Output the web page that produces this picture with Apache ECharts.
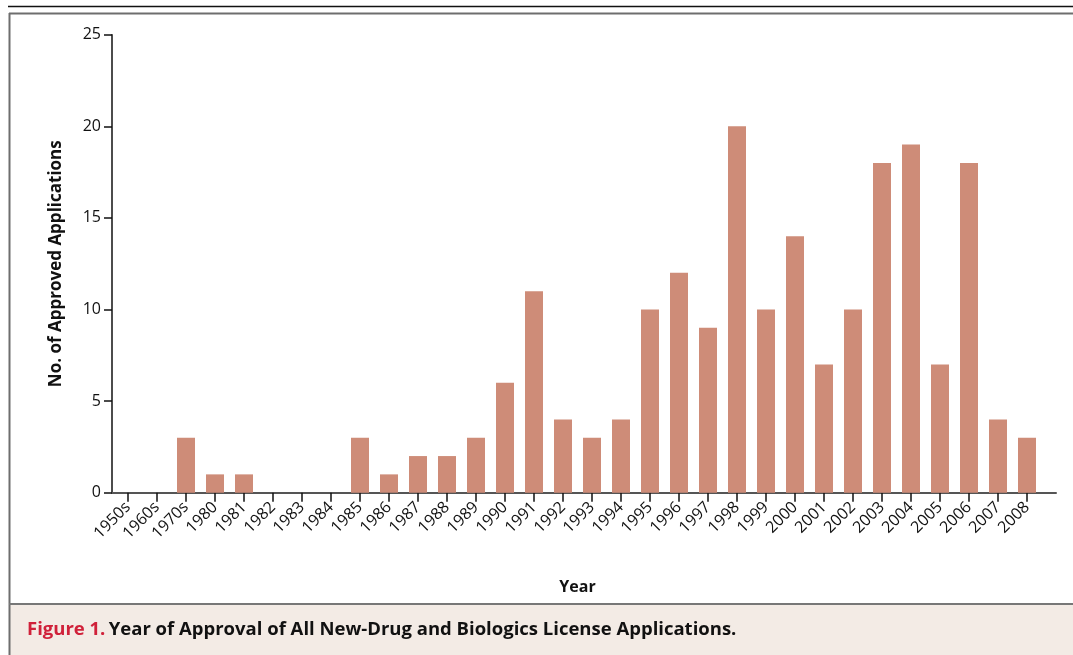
<!DOCTYPE html>
<html><head><meta charset="utf-8">
<script src="https://cdn.jsdelivr.net/npm/echarts@6/dist/echarts.min.js"></script>
<style>html,body{margin:0;padding:0;background:#fff}#c{width:1073px;height:655px}</style>
</head><body><div id="c"></div>
<script>
const categories = ['1950s','1960s','1970s','1980','1981','1982','1983','1984','1985','1986','1987','1988','1989','1990','1991','1992','1993','1994','1995','1996','1997','1998','1999','2000','2001','2002','2003','2004','2005','2006','2007','2008'];
const approvals = [0,0,3,1,1,0,0,0,3,1,2,2,3,6,11,4,3,4,10,12,9,20,10,14,7,10,18,19,7,18,4,3];
const yTicks = [0,5,10,15,20,25];

const FONT = '"Open Sans", "Noto Sans", sans-serif';
const chart = echarts.init(document.getElementById('c'), null, {renderer:'canvas'});
chart.setOption({
  animation:false,
  backgroundColor:'#fff',
  textStyle:{fontFamily:FONT, fontSize:16, color:'#111'},
  graphic:[
    {type:'rect', shape:{x:9, y:604, width:1064, height:51}, style:{fill:'#f3ebe5'}, z:-10},
    {type:'line', shape:{x1:8, y1:6.5, x2:1073, y2:6.5}, style:{stroke:'#111', lineWidth:1.5}},
    {type:'line', shape:{x1:9, y1:13.5, x2:1073, y2:13.5}, style:{stroke:'#6e6e6e', lineWidth:2}},
    {type:'line', shape:{x1:9.5, y1:13, x2:9.5, y2:655}, style:{stroke:'#6e6e6e', lineWidth:2}},
    {type:'line', shape:{x1:9, y1:604, x2:1073, y2:604}, style:{stroke:'#777', lineWidth:2}},
    {type:'text', left:27, top:620, style:{
      text:'{r|Figure 1.} {b|Year of Approval of All New-Drug and Biologics License Applications.}',
      rich:{
        r:{fill:'#d0213a', fontFamily:FONT, fontSize:18.5, fontWeight:'bold'},
        b:{fill:'#111', fontFamily:FONT, fontSize:18.5, fontWeight:'bold'}
      }}}
  ],
  grid:[
    {left:113.5, top:34.7, width:928, height:458, containLabel:false},
    {left:112, top:34.7, right:17, height:458, containLabel:false}
  ],
  xAxis:[
    {type:'category', gridIndex:0, data:categories, boundaryGap:true,
     name:'Year', nameLocation:'middle', nameGap:87,
     nameTextStyle:{fontFamily:FONT, fontSize:16, fontWeight:'bold', color:'#111'},
     axisLine:{show:false},
     axisTick:{show:true, alignWithLabel:true, length:9, lineStyle:{color:'#111', width:1.5}},
     axisLabel:{show:true, rotate:45, fontFamily:FONT, fontSize:16, color:'#111', margin:12, interval:0},
     splitLine:{show:false}},
    {type:'value', gridIndex:1, min:0, max:1, show:true,
     axisLine:{show:true, onZero:false, lineStyle:{color:'#555', width:2}},
     axisTick:{show:false}, axisLabel:{show:false}, splitLine:{show:false}}
  ],
  yAxis:[
    {type:'value', gridIndex:0, min:0, max:25, interval:5, offset:1.5,
     name:'No. of Approved Applications', nameLocation:'middle', nameGap:47, nameRotate:90,
     nameTextStyle:{fontFamily:FONT, fontSize:17, fontWeight:'bold', color:'#111'},
     axisLine:{show:true, lineStyle:{color:'#111', width:1.5}},
     axisTick:{show:true, length:8, lineStyle:{color:'#111', width:1.5}},
     axisLabel:{show:true, fontFamily:FONT, fontSize:16, color:'#111', margin:11,
       formatter:v => yTicks.includes(v) ? String(v) : ''},
     splitLine:{show:false}},
    {type:'value', gridIndex:1, min:0, max:1, show:false}
  ],
  series:[{
    type:'bar', xAxisIndex:0, yAxisIndex:0, data:approvals,
    barWidth:18, itemStyle:{color:'#ce8c78'}
  }]
});
</script></body></html>
